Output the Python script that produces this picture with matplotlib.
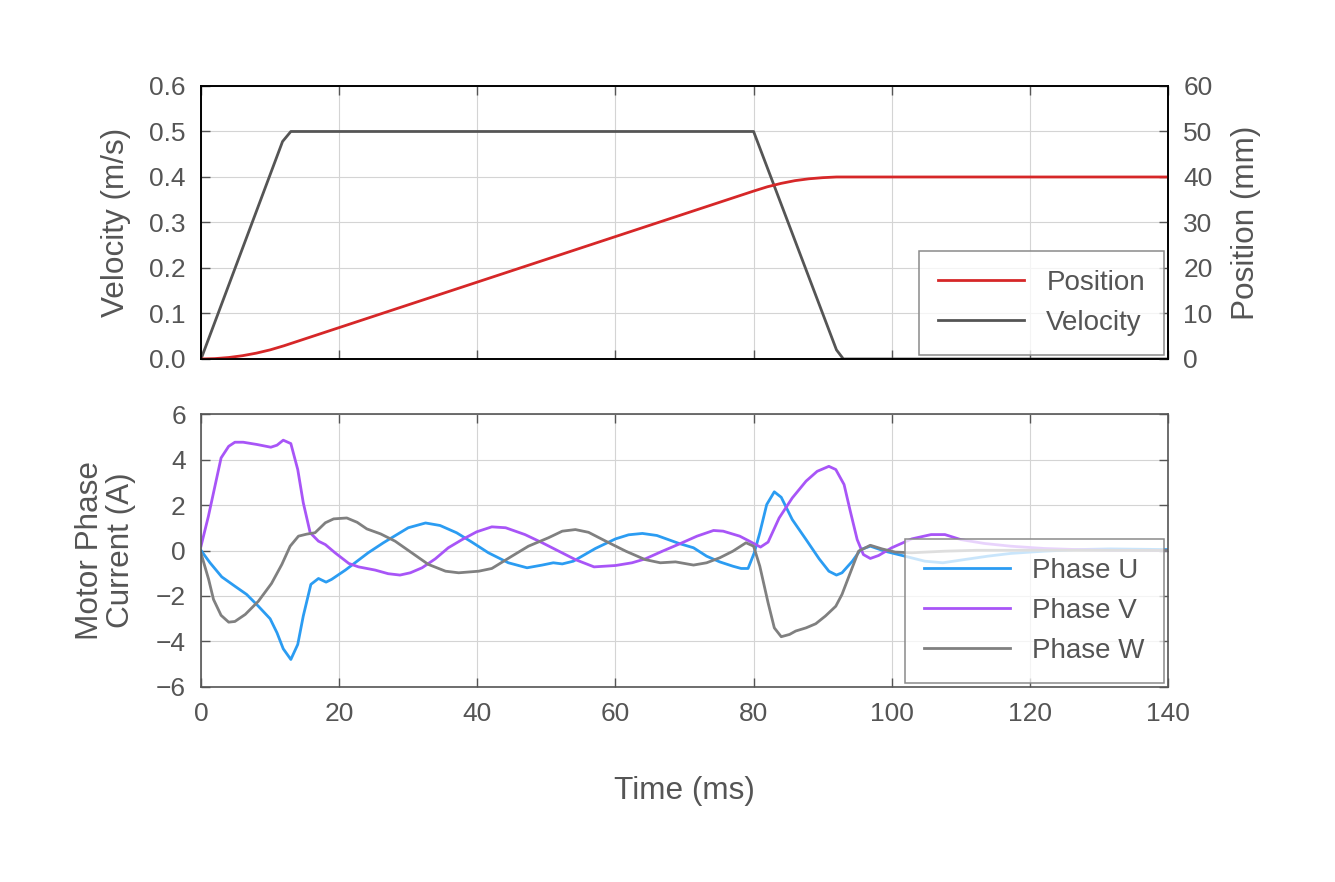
import matplotlib
matplotlib.use("Agg")
import matplotlib.pyplot as plt

# --- data ---
t_vel = [0, 11.8, 13, 80, 92, 93, 140]
velocity = [0, 0.478, 0.5, 0.5, 0.02, 0, 0]

t_pos = [0, 2, 4, 6, 8, 10, 12, 14, 20, 40, 60, 80, 82, 84, 86, 88, 90, 92, 94, 140]
position = [0, 0.08, 0.32, 0.72, 1.28, 2.0, 2.9, 3.9, 6.9, 16.9, 26.9, 36.9,
            37.85, 38.6, 39.2, 39.6, 39.85, 40.0, 40.0, 40.0]

t_u = [0, 1.3, 3.0, 4.9, 6.6, 8.3, 10.0, 11.0, 11.9, 13.0, 14.0, 14.8, 15.9, 17.0,
       18.1, 18.9, 20.9, 24.2, 26.4, 30.0, 32.5, 34.6, 37.0, 39.2, 41.6, 44.5, 47.2,
       49.4, 51.0, 52.3, 53.9, 57.1, 60.0, 61.9, 63.9, 66.0, 69.2, 71.3, 73.2, 75.1,
       77.0, 78.2, 79.2, 80.1, 80.9, 81.9, 83.0, 84.0, 85.6, 87.6, 89.5, 90.9, 92.0,
       92.8, 94.3, 95.5, 96.9, 99.0, 101.9, 104.8, 107.4, 110.5, 113.9, 117.2, 122,
       126.8, 131.6, 140]
phase_u = [0, -0.54, -1.16, -1.57, -1.93, -2.45, -3.0, -3.62, -4.32, -4.79, -4.13,
           -2.88, -1.49, -1.23, -1.39, -1.27, -0.86, -0.1, 0.34, 1.0, 1.21, 1.1, 0.78,
           0.37, -0.1, -0.54, -0.76, -0.64, -0.54, -0.59, -0.47, 0.09, 0.51, 0.69,
           0.75, 0.66, 0.31, 0.12, -0.25, -0.5, -0.69, -0.79, -0.79, -0.1, 0.78, 2.02,
           2.58, 2.34, 1.36, 0.48, -0.37, -0.91, -1.08, -0.98, -0.47, 0.04, 0.19,
           -0.03, -0.25, -0.47, -0.54, -0.4, -0.25, -0.13, -0.03, 0.04, 0.07, 0.04]

t_v = [0, 1.06, 2.9, 4.0, 4.9, 6.1, 8.1, 10.1, 11.0, 11.9, 13.0, 14.0, 14.8, 15.8,
       17.0, 18.0, 19.4, 21.4, 22.8, 25.2, 27.1, 28.8, 30.3, 32.0, 33.9, 35.8, 37.8,
       39.9, 42.1, 44.1, 46.9, 49.4, 51.8, 54.2, 56.9, 60.0, 62.4, 64.3, 66.8, 69.2,
       71.8, 74.2, 75.6, 78.0, 79.4, 81.0, 82.1, 83.7, 85.6, 87.6, 89.2, 90.9, 91.9,
       93.1, 94.0, 95.0, 95.9, 96.9, 98.1, 100.0, 102.9, 105.7, 107.7, 110.0, 113.4,
       117.2, 122, 126.8, 131.6, 140]
phase_v = [0.2, 1.5, 4.07, 4.58, 4.76, 4.76, 4.66, 4.54, 4.63, 4.85, 4.7, 3.56, 2.1,
           0.78, 0.41, 0.26, -0.1, -0.57, -0.72, -0.86, -1.02, -1.08, -0.98, -0.76,
           -0.37, 0.12, 0.48, 0.82, 1.04, 1.0, 0.7, 0.34, -0.03, -0.4, -0.72, -0.66,
           -0.54, -0.37, -0.03, 0.28, 0.63, 0.88, 0.85, 0.63, 0.41, 0.15, 0.37, 1.43,
           2.31, 3.05, 3.48, 3.7, 3.56, 2.9, 1.73, 0.48, -0.18, -0.35, -0.22, 0.12,
           0.51, 0.70, 0.70, 0.48, 0.31, 0.19, 0.09, 0.04, 0.01, 0]

t_w = [0, 1.1, 1.8, 2.9, 4.0, 4.9, 6.4, 8.3, 10.2, 11.7, 12.9, 14.1, 15.3, 16.5, 18.0,
       19.2, 21.1, 22.6, 24.0, 26.0, 28.1, 30.5, 32.9, 35.4, 37.3, 40.2, 42.1, 45.0,
       47.4, 50.3, 52.3, 54.2, 56.1, 58.6, 61.5, 64.3, 66.5, 68.7, 71.3, 73.2, 75.1,
       77.0, 78.9, 80.0, 80.9, 82.1, 83.0, 84.0, 85.2, 86.1, 87.6, 89.0, 90.4, 91.9,
       92.8, 94.0, 95.2, 96.9, 98.6, 100.5, 102.9, 107.7, 112.4, 122, 140]
phase_w = [-0.13, -1.27, -2.15, -2.85, -3.15, -3.12, -2.81, -2.23, -1.45, -0.61, 0.19,
           0.63, 0.72, 0.78, 1.22, 1.39, 1.43, 1.24, 0.95, 0.73, 0.41, -0.1, -0.61,
           -0.91, -0.98, -0.91, -0.79, -0.25, 0.19, 0.56, 0.85, 0.92, 0.8, 0.41, -0.03,
           -0.4, -0.54, -0.5, -0.64, -0.54, -0.32, -0.03, 0.34, 0.19, -0.69, -2.3, -3.4,
           -3.79, -3.69, -3.54, -3.4, -3.22, -2.88, -2.45, -1.93, -0.98, -0.03, 0.23,
           0.07, -0.07, -0.1, -0.03, 0.01, 0.01, 0]

# --- style ---
TXT = "#555555"
plt.rcParams["font.family"] = ["Liberation Sans", "DejaVu Sans"]
plt.rcParams["text.color"] = TXT
plt.rcParams["axes.labelcolor"] = TXT
plt.rcParams["xtick.color"] = TXT
plt.rcParams["ytick.color"] = TXT

TICK_FS = 19
LABEL_FS = 22.7
LEG_FS = 20
LW = 2.0
LEG_KW = dict(loc="lower right", fontsize=LEG_FS, fancybox=False,
              borderaxespad=0.15, borderpad=0.68, labelspacing=0.5,
              handlelength=3.1, handletextpad=0.8)

fig = plt.figure(figsize=(13.35, 8.82), dpi=100)
ax1 = fig.add_axes([0.1506, 0.5930, 0.7243, 0.3095])
ax3 = fig.add_axes([0.1506, 0.2211, 0.7243, 0.3095])


def style_ticks(ax, labelbottom=True):
    ax.tick_params(direction="in", length=6.5, width=1.0, pad=11,
                   labelsize=TICK_FS, top=True, bottom=True,
                   labelbottom=labelbottom)
    ax.grid(True, color="#d4d4d4", linewidth=0.8)
    ax.set_axisbelow(True)


def style_legend(leg):
    # see-through face, but a solid grey edge
    frame = leg.get_frame()
    frame.set_alpha(None)
    frame.set_facecolor((1, 1, 1, 0.75))
    frame.set_edgecolor("#8a8a8a")
    frame.set_linewidth(1.1)
    for txt in leg.get_texts():
        txt.set_color(TXT)


# --- top panel: velocity + position ---
l_vel, = ax1.plot(t_vel, velocity, color="#555555", lw=LW, label="Velocity")
ax1.set_xlim(0, 140)
ax1.set_ylim(0, 0.6)
ax1.set_xticks(range(0, 141, 20))
ax1.set_yticks([0, 0.1, 0.2, 0.3, 0.4, 0.5, 0.6])
ax1.set_yticklabels([f"{v:.1f}" for v in ax1.get_yticks()])
style_ticks(ax1, labelbottom=False)
ax1.tick_params(axis="y", left=True, right=False)
ax1.set_ylabel("Velocity (m/s)", fontsize=LABEL_FS, va="center")
ax1.yaxis.set_label_coords(-0.0879, 0.5)

ax2 = ax1.twinx()
l_pos, = ax2.plot(t_pos, position, color="#d62728", lw=LW, label="Position")
ax2.set_ylim(0, 60)
ax2.set_yticks(range(0, 61, 10))
ax2.tick_params(direction="in", length=6.5, width=1.0, pad=11, labelsize=TICK_FS)
ax2.set_ylabel("Position (mm)", fontsize=LABEL_FS, va="center")
ax2.yaxis.set_label_coords(1.0806, 0.5)
for ax in (ax1, ax2):
    for sp in ax.spines.values():
        sp.set_color("black")
        sp.set_linewidth(1.2)

leg1 = ax2.legend(handles=[l_pos, l_vel], **LEG_KW)
style_legend(leg1)

# --- bottom panel: phase currents ---
ax3.plot(t_u, phase_u, color="#2b9cf2", lw=LW, label="Phase U")
ax3.plot(t_v, phase_v, color="#a855f7", lw=LW, label="Phase V")
ax3.plot(t_w, phase_w, color="#808080", lw=LW, label="Phase W")
ax3.set_xlim(0, 140)
ax3.set_ylim(-6, 6)
ax3.set_xticks(range(0, 141, 20))
ax3.set_yticks(range(-6, 7, 2))
style_ticks(ax3)
ax3.tick_params(axis="y", left=True, right=True)
for sp in ax3.spines.values():
    sp.set_color("#555555")
    sp.set_linewidth(1.2)
ax3.set_ylabel("Motor Phase\nCurrent (A)", fontsize=LABEL_FS, va="center",
               linespacing=1.05)
ax3.yaxis.set_label_coords(-0.0984, 0.5)

leg2 = ax3.legend(**LEG_KW)
style_legend(leg2)

fig.text(684.5 / 1335, 1 - 791 / 882, "Time (ms)", fontsize=LABEL_FS,
         ha="center", va="center", color=TXT)

fig.savefig("out.png", dpi=100)
